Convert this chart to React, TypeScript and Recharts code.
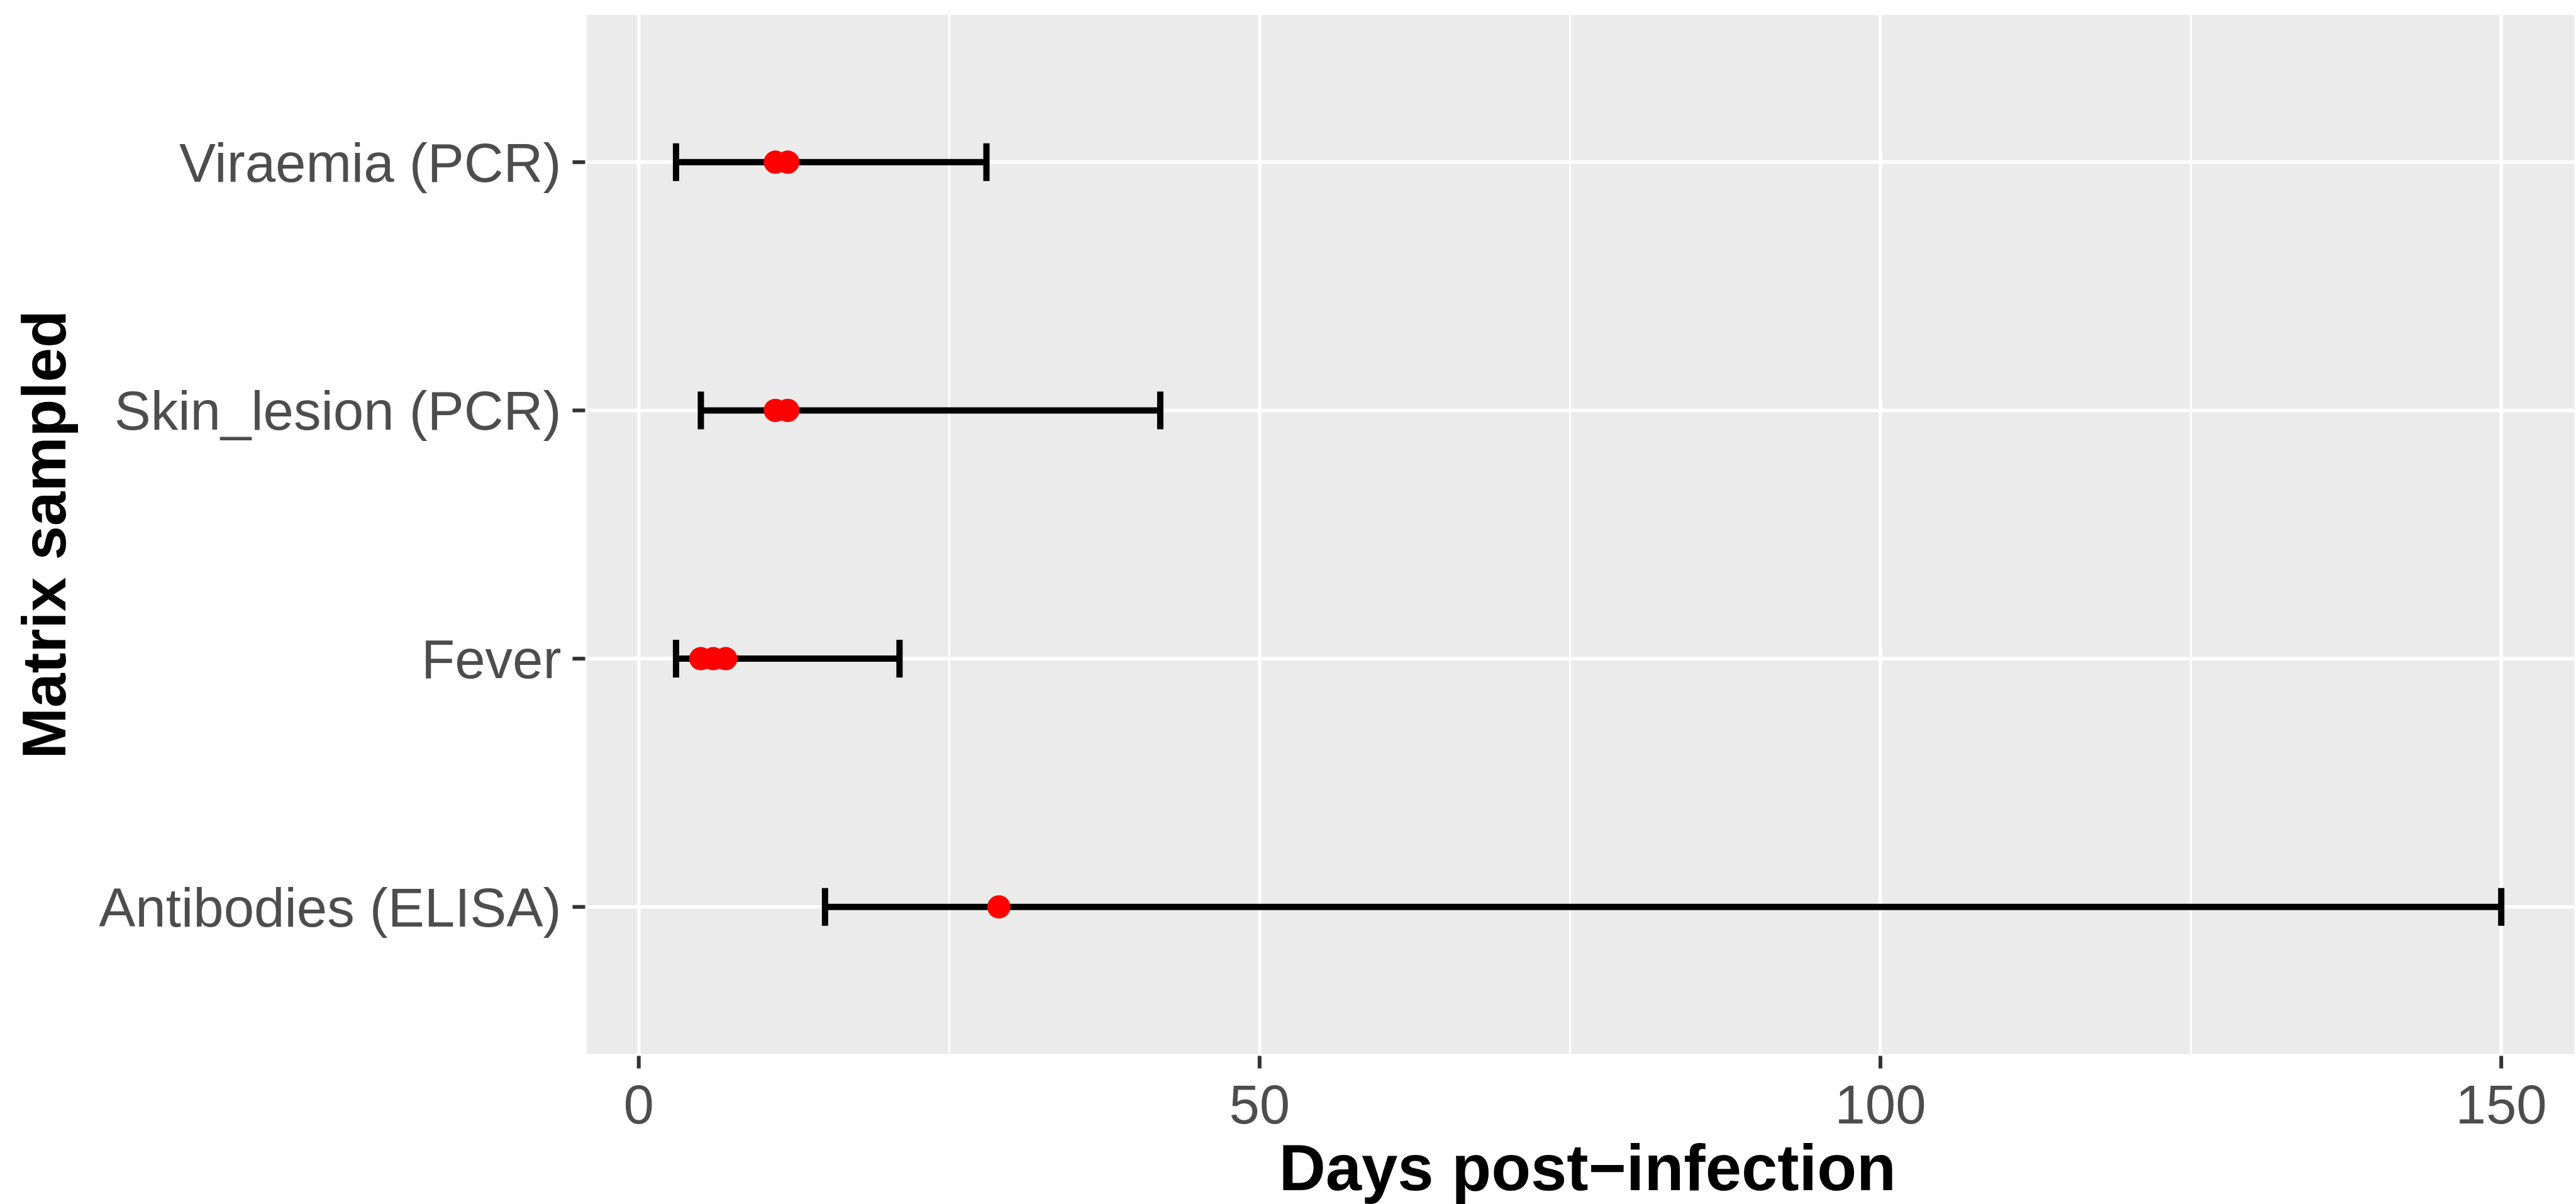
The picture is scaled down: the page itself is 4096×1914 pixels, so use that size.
import {
  CartesianGrid,
  ErrorBar,
  ReferenceLine,
  Scatter,
  ScatterChart,
  XAxis,
  YAxis,
} from "recharts";

/* bottom to top, index 1..4 on the y axis */
const categories = ["Antibodies (ELISA)", "Fever", "Skin_lesion (PCR)", "Viraemia (PCR)"];
const rangeLow = [15, 3, 5, 3];
const rangeHigh = [150, 21, 42, 28];
const pointDays = [[29], [5, 6, 7], [11, 12], [11, 12]];
const xTicks = [0, 50, 100, 150];
const xMinor = [25, 75, 125];

const ranges = categories.map((_, i) => ({
  x: rangeLow[i],
  y: i + 1,
  err: [0, rangeHigh[i] - rangeLow[i]],
}));
const points = pointDays.flatMap((days, i) => days.map((d) => ({ x: d, y: i + 1 })));

const font = "Liberation Sans, Arial, sans-serif";
const tickStyle = { fontFamily: font, fontSize: 87, fill: "#4D4D4D" };
const titleStyle = { fontFamily: font, fontWeight: "bold", fill: "#000" };

export default function App() {
  return (
    <div style={{ background: "#fff" }}>
      <style>{`body{margin:0}`}</style>
      <ScatterChart width={4096} height={1914} margin={{ top: 21, right: 0, bottom: 0, left: 0 }}>
        <CartesianGrid fill="#EBEBEB" stroke="#FFFFFF" strokeWidth={5.5} />
        <XAxis
          type="number"
          dataKey="x"
          domain={[-4.32, 156.02]}
          allowDataOverflow
          ticks={xTicks}
          axisLine={false}
          tickLine={{ stroke: "#333333", strokeWidth: 6 }}
          tickSize={20}
          tickMargin={26}
          tick={tickStyle}
          height={235.5}
          label={{
            value: "Days post\u2212infection",
            position: "insideBottom",
            offset: 22,
            dx: 11,
            style: { ...titleStyle, fontSize: 103 },
          }}
        />
        <YAxis
          type="number"
          dataKey="y"
          domain={[0.4, 4.6]}
          allowDataOverflow
          ticks={[1, 2, 3, 4]}
          tickFormatter={(v: number) => categories[v - 1]}
          axisLine={false}
          tickLine={{ stroke: "#333333", strokeWidth: 6 }}
          tickSize={20}
          tickMargin={18}
          tick={tickStyle}
          width={930.4}
          label={{
            value: "Matrix sampled",
            angle: -90,
            position: "insideLeft",
            offset: 69,
            style: { ...titleStyle, fontSize: 98, textAnchor: "middle" },
          }}
        />
        {xMinor.map((v) => (
          <ReferenceLine key={v} x={v} stroke="#FFFFFF" strokeWidth={3} />
        ))}
        <Scatter data={ranges} isAnimationActive={false} shape={() => <g />}>
          <ErrorBar dataKey="err" direction="x" width={30} strokeWidth={10} stroke="#000000" />
        </Scatter>
        <Scatter
          data={points}
          isAnimationActive={false}
          shape={(p: any) => <circle cx={p.cx} cy={p.cy} r={18.5} fill="#FF0000" />}
        />
      </ScatterChart>
    </div>
  );
}
